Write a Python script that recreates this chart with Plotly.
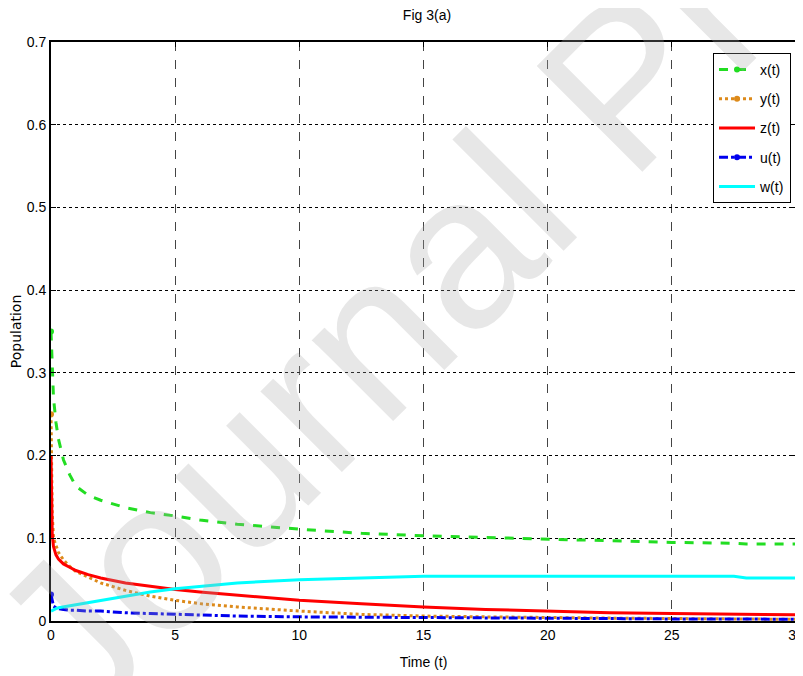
import plotly.graph_objects as go

t = [0, 0.05, 0.1, 0.2, 0.3, 0.5, 0.75, 1, 1.5, 2, 3, 4, 5, 6, 7.5, 10, 12.5, 15, 17.5, 20, 22.5, 25, 27.5, 28, 30]
x_t = [0.35, 0.30, 0.27, 0.24, 0.22, 0.195, 0.177, 0.163, 0.152, 0.146, 0.137, 0.131, 0.127, 0.122, 0.117, 0.111, 0.106, 0.103, 0.101, 0.099, 0.097, 0.095, 0.094, 0.093, 0.093]
y_t = [0.25, 0.13, 0.10, 0.090, 0.083, 0.074, 0.066, 0.060, 0.053, 0.046, 0.037, 0.030, 0.025, 0.021, 0.017, 0.012, 0.008, 0.006, 0.005, 0.004, 0.0035, 0.003, 0.0025, 0.0025, 0.002]
z_t = [0.20, 0.105, 0.090, 0.080, 0.075, 0.069, 0.065, 0.061, 0.056, 0.052, 0.046, 0.042, 0.038, 0.035, 0.031, 0.025, 0.021, 0.017, 0.014, 0.012, 0.010, 0.009, 0.008, 0.008, 0.0076]
u_t = [0.032, 0.022, 0.018, 0.016, 0.015, 0.014, 0.013, 0.013, 0.012, 0.012, 0.010, 0.009, 0.008, 0.007, 0.006, 0.005, 0.0045, 0.004, 0.0035, 0.003, 0.003, 0.0025, 0.0025, 0.0025, 0.002]
w_t = [0.012, 0.013, 0.014, 0.015, 0.016, 0.017, 0.019, 0.020, 0.022, 0.025, 0.030, 0.035, 0.039, 0.042, 0.046, 0.050, 0.052, 0.054, 0.054, 0.054, 0.054, 0.054, 0.054, 0.052, 0.052]

x_ticks = [0, 5, 10, 15, 20, 25, 30]
y_ticks = [0, 0.1, 0.2, 0.3, 0.4, 0.5, 0.6, 0.7]
y_tick_text = ["0", "0.1", "0.2", "0.3", "0.4", "0.5", "0.6", "0.7"]

FONT = "Liberation Sans, Arial, sans-serif"

series = [
    ("x(t)", x_t, "#22dd22", "dash", True),
    ("y(t)", y_t, "#dd8a1a", "dot", True),
    ("z(t)", z_t, "#ff0000", "solid", False),
    ("u(t)", u_t, "#0000ee", "dashdot", True),
    ("w(t)", w_t, "#00ffff", "solid", False),
]

fig = go.Figure()
for name, vals, col, dash, mk in series:
    if mk:
        colors = [col] + ["rgba(0,0,0,0)"] * (len(vals) - 1)
        fig.add_trace(go.Scatter(
            x=t, y=vals, name=name, mode="lines+markers",
            line=dict(color=col, width=3, dash=dash),
            marker=dict(color=colors, size=6, line=dict(width=0)),
            legendgroup=name, cliponaxis=True,
        ))
    else:
        fig.add_trace(go.Scatter(
            x=t, y=vals, name=name, mode="lines",
            line=dict(color=col, width=3, dash=dash),
            legendgroup=name,
        ))

fig.add_annotation(
    text="Journal Pre-proof", xref="paper", yref="paper",
    x=0.769, y=0.928, xanchor="center", yanchor="middle",
    textangle=-45, showarrow=False,
    font=dict(family=FONT, size=217, color="rgba(170,170,170,0.28)"),
)

fig.update_layout(
    width=795, height=668,
    margin=dict(l=43, r=7, t=34, b=55),
    paper_bgcolor="white", plot_bgcolor="white",
    title=dict(text="Fig 3(a)", x=0.527, xanchor="center", y=0.989, yanchor="middle",
               font=dict(family=FONT, size=14, color="black")),
    font=dict(family=FONT, size=14, color="black"),
    showlegend=True,
    legend=dict(
        x=0.9933, xanchor="right", y=0.981, yanchor="top",
        bgcolor="white", bordercolor="black", borderwidth=1,
        font=dict(family=FONT, size=14, color="black"),
        traceorder="grouped", tracegroupgap=8, itemwidth=36,
    ),
    xaxis=dict(
        range=[0, 30], tickvals=x_ticks, ticktext=[str(v) for v in x_ticks],
        showgrid=True, gridcolor="#444444", griddash="dash", gridwidth=1,
        showline=True, linecolor="black", linewidth=2, mirror="ticks",
        ticks="inside", ticklen=5, tickcolor="black", zeroline=False,
        automargin=False, ticklabeloverflow="allow",
        title=dict(text="Time (t)", font=dict(family=FONT, size=14)),
        tickfont=dict(family=FONT, size=14),
    ),
    yaxis=dict(
        range=[0, 0.7], tickvals=y_ticks, ticktext=y_tick_text,
        showgrid=True, gridcolor="black", griddash="dot", gridwidth=1,
        showline=True, linecolor="black", linewidth=2, mirror="ticks",
        ticks="inside", ticklen=5, tickcolor="black", zeroline=False,
        automargin=False, ticklabeloverflow="allow",
        title=dict(text="Population", standoff=8, font=dict(family="DejaVu Sans, sans-serif", size=14)),
        tickfont=dict(family=FONT, size=14),
    ),
)

fig.write_html("out.html")
